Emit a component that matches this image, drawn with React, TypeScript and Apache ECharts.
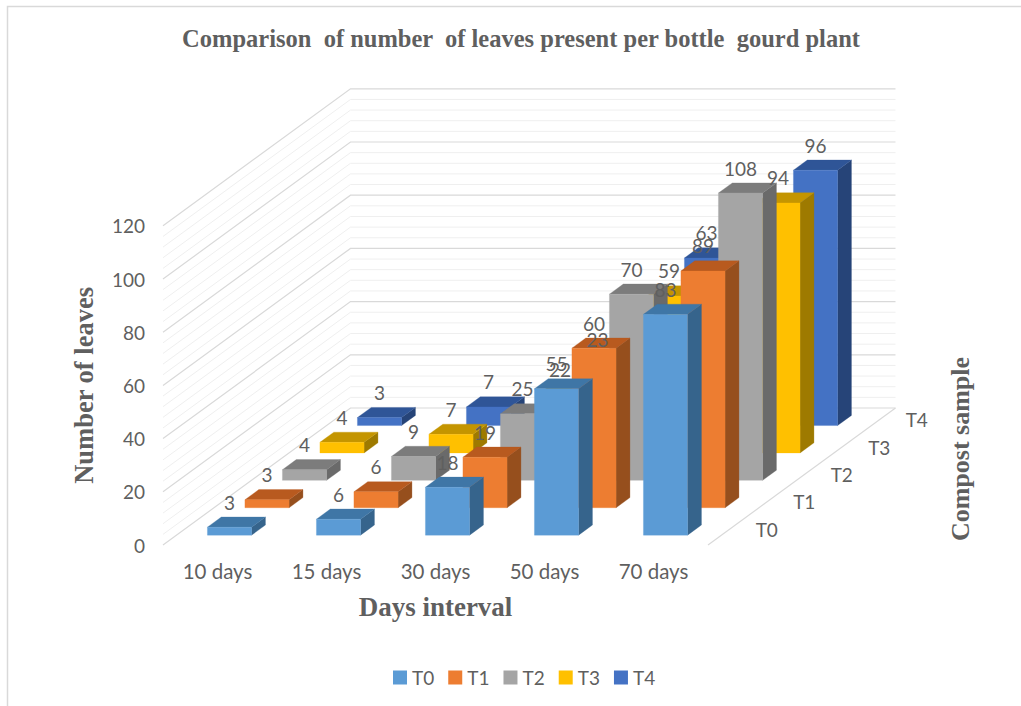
import React, { useEffect, useRef } from "react";
import * as echarts from "echarts";

const days = ["10 days", "15 days", "30 days", "50 days", "70 days"];
const samples = ["T0", "T1", "T2", "T3", "T4"];
const T0 = [3, 6, 18, 55, 83];
const T1 = [3, 6, 19, 60, 89];
const T2 = [4, 9, 25, 70, 108];
const T3 = [4, 7, 22, 59, 94];
const T4 = [3, 7, 23, 63, 96];
const sampleValues = [T0, T1, T2, T3, T4];
const frontColors = ["#5B9BD5", "#ED7D31", "#A5A5A5", "#FFC000", "#4472C4"];
const topColors = ["#3F76A6", "#B85A1F", "#7C7C7C", "#C49500", "#2F5597"];
const sideColors = ["#36648C", "#964F1D", "#6A6A6A", "#9E7A00", "#264478"];
const gridSteps = Array.from({ length: 31 }, (_, i) => i * 4);

// Oblique projection of the depth axis: screen offset of one sample row.
const ROW_DX = 37.5;
const ROW_DY = -27.4;
const ROW_GAP_X = 0.32;
const ROW_GAP_Y = 0.36;
const ROW_BAR = 0.37;
const BAR_WIDTH_RATIO = 0.405;

const sans = "Lato, 'Noto Sans', sans-serif";
const serif = "'Liberation Serif', serif";
const textColor = "#5F5F5F";

function poly(points: number[][], fill: string) {
  return { type: "polygon", shape: { points }, style: { fill, stroke: fill, lineWidth: 0.3 } };
}

function barRenderer(row: number) {
  return (_params: any, api: any) => {
    const cat = api.value(0);
    const value = api.value(1);
    const band = api.size([1, 0])[0];
    const half = (band * BAR_WIDTH_RATIO) / 2;
    const base = api.coord([cat, 0]);
    const top = api.coord([cat, value]);
    const x = base[0] + (row + ROW_GAP_X) * ROW_DX;
    const x0 = x - half;
    const x1 = x + half;
    const y0 = base[1] + (row + ROW_GAP_Y) * ROW_DY;
    const y1 = top[1] + (row + ROW_GAP_Y) * ROW_DY;
    const bx = ROW_BAR * ROW_DX;
    const by = ROW_BAR * ROW_DY;
    return {
      type: "group",
      children: [
        poly([[x1, y0], [x1 + bx, y0 + by], [x1 + bx, y1 + by], [x1, y1]], sideColors[row]),
        poly([[x0, y1], [x1, y1], [x1 + bx, y1 + by], [x0 + bx, y1 + by]], topColors[row]),
        poly([[x0, y0], [x1, y0], [x1, y1], [x0, y1]], frontColors[row]),
      ],
    };
  };
}

function labelRenderer(row: number) {
  return (_params: any, api: any) => {
    const cat = api.value(0);
    const value = api.value(1);
    const top = api.coord([cat, value]);
    return {
      type: "text",
      style: {
        x: top[0] + (row + ROW_GAP_X) * ROW_DX,
        y: top[1] + (row + ROW_GAP_Y) * ROW_DY - 25,
        text: String(value),
        fill: textColor,
        font: `19px ${sans}`,
        align: "center",
        verticalAlign: "middle",
      },
    };
  };
}

// Side wall and back wall rules; every fifth rule is a major one.
function wallRenderer(_params: any, api: any) {
  const value = api.value(0);
  const band = api.size([1, 0])[0];
  const p = api.coord([0, value]);
  const x0 = p[0] - band / 2;
  const x1 = x0 + band * days.length;
  const dx = ROW_DX * samples.length;
  const dy = ROW_DY * samples.length;
  const major = value % 20 === 0;
  return {
    type: "polyline",
    shape: { points: [[x0, p[1]], [x0 + dx, p[1] + dy], [x1 + dx, p[1] + dy]] },
    style: { fill: "none", stroke: major ? "#D9D9D9" : "#EFEFEF", lineWidth: major ? 1.2 : 1 },
  };
}

// Right floor edge, drawn once from the first data item.
function floorEdgeRenderer(_params: any, api: any) {
  const band = api.size([1, 0])[0];
  const p = api.coord([0, 0]);
  const x1 = p[0] - band / 2 + band * days.length;
  return {
    type: "line",
    shape: { x1, y1: p[1], x2: x1 + ROW_DX * samples.length, y2: p[1] + ROW_DY * samples.length },
    style: { stroke: "#D9D9D9", lineWidth: 1.2 },
  };
}

function depthLabelRenderer(params: any, api: any) {
  const band = api.size([1, 0])[0];
  const p = api.coord([0, 0]);
  const i = params.dataIndex;
  const x1 = p[0] - band / 2 + band * days.length;
  return {
    type: "text",
    style: {
      x: x1 + (i + 0.5) * ROW_DX + 40,
      y: p[1] + (i + 0.5) * ROW_DY - 2,
      text: samples[i],
      fill: textColor,
      font: `19px ${sans}`,
      align: "center",
      verticalAlign: "middle",
    },
  };
}

export default function App() {
  const ref = useRef<HTMLDivElement>(null);
  useEffect(() => {
    const chart = echarts.init(ref.current!, undefined, { renderer: "svg" });
    const barSeries = samples
      .map((name, row) => ({
        type: "custom",
        name,
        z: 3,
        itemStyle: { color: frontColors[row] },
        renderItem: barRenderer(row),
        encode: { x: 0, y: 1 },
        data: sampleValues[row].map((v, i) => [i, v]),
        silent: true,
      }))
      .reverse();
    const labelSeries = samples.map((_, row) => ({
      type: "custom",
      z: 4,
      renderItem: labelRenderer(row),
      encode: { x: 0, y: 1 },
      data: sampleValues[row].map((v, i) => [i, v]),
      silent: true,
    }));
    chart.setOption({
      animation: false,
      backgroundColor: "#FFFFFF",
      title: {
        text: "Comparison  of number  of leaves present per bottle  gourd plant",
        left: 516,
        top: 21,
        textAlign: "center",
        textStyle: { fontFamily: serif, fontWeight: "bold", fontSize: 24.5, color: textColor },
      },
      legend: {
        data: samples,
        left: 388,
        top: 663,
        itemWidth: 14,
        itemHeight: 14,
        itemGap: 14,
        icon: "rect",
        textStyle: { fontFamily: sans, fontSize: 19, color: textColor },
      },
      grid: { left: 163, top: 225.8, width: 545, height: 319.2 },
      xAxis: {
        type: "category",
        data: days,
        name: "Days interval",
        nameLocation: "middle",
        nameGap: 48,
        nameTextStyle: { fontFamily: serif, fontWeight: "bold", fontSize: 27, color: textColor },
        axisLine: { show: false },
        axisTick: { show: false },
        axisLabel: { margin: 15, fontFamily: sans, fontSize: 20.5, color: textColor },
      },
      yAxis: {
        type: "value",
        min: 0,
        max: 120,
        interval: 20,
        name: "Number of leaves",
        nameLocation: "middle",
        nameGap: 66,
        nameTextStyle: { fontFamily: serif, fontWeight: "bold", fontSize: 26.5, color: textColor },
        axisLine: { show: false },
        axisTick: { show: false },
        splitLine: { show: false },
        axisLabel: { margin: 18, fontFamily: sans, fontSize: 19, color: textColor, padding: [0, 0, 3, 0] },
      },
      graphic: [
        {
          type: "polyline",
          shape: { points: [[7.5, 706], [7.5, 6.5], [1021, 6.5]] },
          style: { fill: "none", stroke: "#D9D9D9", lineWidth: 1.5 },
        },
        {
          type: "text",
          x: 960,
          y: 449,
          rotation: Math.PI / 2,
          style: {
            text: "Compost sample",
            fill: textColor,
            font: `bold 26px ${serif}`,
            align: "center",
            verticalAlign: "middle",
          },
        },
      ],
      series: [
        {
          type: "custom",
          z: 1,
          renderItem: wallRenderer,
          encode: { x: -1, y: 0 },
          data: gridSteps.map((v) => [v]),
          silent: true,
        },
        {
          type: "custom",
          z: 1,
          renderItem: floorEdgeRenderer,
          data: [[0, 0]],
          encode: { x: 0, y: 1 },
          silent: true,
        },
        {
          type: "custom",
          z: 1,
          renderItem: depthLabelRenderer,
          data: samples.map((_, i) => [0, 0, i]),
          encode: { x: 0, y: 1 },
          silent: true,
        },
        ...barSeries,
        ...labelSeries,
      ],
    });
    return () => chart.dispose();
  }, []);
  return (
    <div
      ref={ref}
      style={{ position: "absolute", left: 0, top: 0, width: 1021, height: 706 }}
    />
  );
}
